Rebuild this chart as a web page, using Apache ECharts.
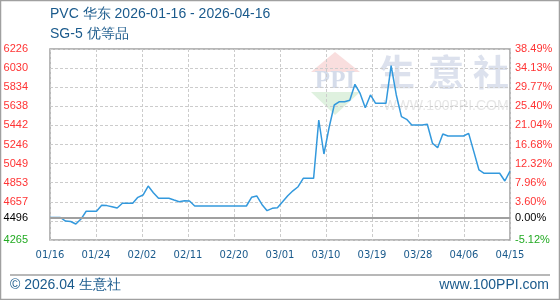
<!DOCTYPE html>
<html>
<head>
<meta charset="utf-8">
<script src="https://cdn.jsdelivr.net/npm/echarts@6/dist/echarts.min.js"></script>
<style>
html,body{margin:0;padding:0;background:#fff;}
#c{width:560px;height:300px;}
</style>
</head>
<body>
<div id="c"></div>
<script>
// ---- data ----
const titleText = 'PVC 华东 2026-01-16 - 2026-04-16';
const subTitleText = 'SG-5 优等品';
const startDate = '2026-01-16';
// daily prices (yuan/ton), 01/16 .. 04/15
const prices = [
  4496, 4496, 4496, 4460, 4455, 4429, 4480, 4560, 4560, 4560,
  4621, 4618, 4607, 4594, 4642, 4642, 4642, 4703, 4727, 4819,
  4751, 4693, 4693, 4693, 4675, 4658, 4668, 4665, 4614, 4614,
  4614, 4614, 4614, 4614, 4614, 4614, 4614, 4614, 4614, 4703,
  4717, 4630, 4566, 4590, 4597, 4658, 4720, 4770, 4812, 4898,
  4898, 4898, 5497, 5148, 5420, 5651, 5685, 5685, 5700, 5864,
  5770, 5623, 5754, 5668, 5668, 5668, 6055, 5754, 5531, 5504,
  5446, 5446, 5446, 5453, 5258, 5213, 5353, 5333, 5333, 5333,
  5333, 5360, 5172, 4984, 4950, 4950, 4950, 4950, 4871, 4973
];
const baseValue = 4496;
const baseLabelLeft = '4496';
const baseLabelRight = '0.00%';
const xTickLabels = ['01/16','01/24','02/02','02/11','02/20','03/01','03/10','03/19','03/28','04/06','04/15'];
const leftTickLabels = ['4265','','4657','4853','5049','5246','5442','5638','5834','6030','6226'];
const rightTickLabels = ['-5.12%','','3.60%','7.96%','12.32%','16.68%','21.04%','25.40%','29.77%','34.13%','38.49%'];
const yMin = 4265, yMax = 6226;
const footerLeft = '© 2026.04 生意社';
const footerRight = 'www.100PPI.com';

// ---- chart ----
const chart = echarts.init(document.getElementById('c'), null, {renderer: 'canvas'});
const blue = '#1a5a8c';
const nDays = prices.length - 1;
const yInterval = (yMax - yMin) / 10;

function tickStyle(labels, idx) {
  const t = labels[idx];
  if (!t) return '';
  if (idx === 0) return '{g|' + t + '}';
  return '{r|' + t + '}';
}
const richY = {
  r: {color: '#ff3333', fontSize: 11, fontFamily: 'Liberation Sans'},
  g: {color: '#22aa22', fontSize: 11, fontFamily: 'Liberation Sans'}
};

const option = {
  animation: false,
  backgroundColor: '#fff',
  title: [
    {text: titleText, left: 50, top: 7, padding: 0,
     textStyle: {fontSize: 14, fontWeight: 'normal', color: blue, fontFamily: 'Liberation Sans'}},
    {text: subTitleText, left: 50, top: 27, padding: 0,
     textStyle: {fontSize: 14, fontWeight: 'normal', color: blue, fontFamily: 'Liberation Sans'}}
  ],
  grid: {left: 50, right: 50, top: 49, bottom: 60, show: true,
         borderColor: '#a0a0a0', borderWidth: 1.5, containLabel: false},
  xAxis: {
    type: 'value', min: 0, max: nDays, interval: nDays / 10,
    axisLine: {show: false}, axisTick: {show: false},
    splitLine: {show: true, lineStyle: {color: '#cccccc', type: [3, 2], width: 1}},
    axisLabel: {
      margin: 10, color: blue, fontSize: 10, fontFamily: 'DejaVu Sans',
      showMinLabel: true, showMaxLabel: true,
      formatter: function (v, idx) { return xTickLabels[idx] || ''; }
    }
  },
  yAxis: [
    {
      type: 'value', min: yMin, max: yMax, interval: yInterval, position: 'left',
      axisLine: {show: false}, axisTick: {show: false},
      splitLine: {show: true, lineStyle: {color: '#cccccc', type: [3, 2], width: 1}},
      axisLabel: {margin: 22, rich: richY,
        formatter: function (v, idx) { return tickStyle(leftTickLabels, idx); }}
    },
    {
      type: 'value', min: yMin, max: yMax, interval: yInterval, position: 'right',
      axisLine: {show: false}, axisTick: {show: false}, splitLine: {show: false},
      axisLabel: {margin: 5, rich: richY,
        formatter: function (v, idx) { return tickStyle(rightTickLabels, idx); }}
    }
  ],
  graphic: [
    {type: 'rect', shape: {x: 0.5, y: 0.5, width: 559, height: 299}, z: -10,
     style: {fill: 'none', stroke: '#a0a0a0', lineWidth: 1.5}},
    // watermark logo
    {type: 'polygon', z: -5, shape: {points: [[335, 52], [311, 72], [360, 72]]},
     style: {fill: '#f9dede'}},
    {type: 'text', z: -5, x: 335, y: 82, style: {text: 'PPI', fill: '#d5dcea',
     font: 'bold 25px "Liberation Serif"', align: 'center', verticalAlign: 'middle'}},
    {type: 'polygon', z: -5, shape: {points: [[311, 92], [360, 92], [335, 115]]},
     style: {fill: '#dff1df'}},
    {type: 'text', z: -5, x: 397, y: 72, style: {text: '生', fill: '#dce1ed',
     font: 'bold 36px "Noto Sans CJK SC"', align: 'center', verticalAlign: 'middle'}},
    {type: 'text', z: -5, x: 446, y: 72, style: {text: '意', fill: '#dce1ed',
     font: 'bold 36px "Noto Sans CJK SC"', align: 'center', verticalAlign: 'middle'}},
    {type: 'text', z: -5, x: 491, y: 72, style: {text: '社', fill: '#dce1ed',
     font: 'bold 36px "Noto Sans CJK SC"', align: 'center', verticalAlign: 'middle'}},
    {type: 'text', z: -5, x: 446, y: 106, style: {text: 'WWW.100PPI.COM', fill: '#e6e6e6',
     font: '14px "Liberation Sans"', align: 'center', verticalAlign: 'middle'}},
    // footer
    {type: 'line', shape: {x1: 10, y1: 275, x2: 550, y2: 275},
     style: {stroke: '#a0a0a0', lineWidth: 1.5}},
    {type: 'text', x: 10, y: 285, style: {text: footerLeft, fill: blue,
     font: '14px "Liberation Sans"', align: 'left', verticalAlign: 'middle'}},
    {type: 'text', x: 549, y: 285, style: {text: footerRight, fill: blue,
     font: '14px "Liberation Sans"', align: 'right', verticalAlign: 'middle'}}
  ],
  series: [
    {
      type: 'line', data: [], z: 1, silent: true,
      markLine: {
        silent: true, symbol: 'none',
        lineStyle: {color: '#a0a0a0', type: 'solid', width: 2},
        label: {color: '#000', fontSize: 11, fontFamily: 'Liberation Sans'},
        data: [
          {yAxis: baseValue, label: {position: 'start', distance: 22, formatter: baseLabelLeft}},
          {yAxis: baseValue, label: {position: 'end', distance: 5, formatter: baseLabelRight}}
        ]
      }
    },
    {
      type: 'line', z: 3, symbol: 'none', smooth: false,
      lineStyle: {color: '#3399dd', width: 1.5},
      data: prices.map(function (p, i) { return [i, p]; })
    }
  ]
};
chart.setOption(option);
</script>
</body>
</html>
